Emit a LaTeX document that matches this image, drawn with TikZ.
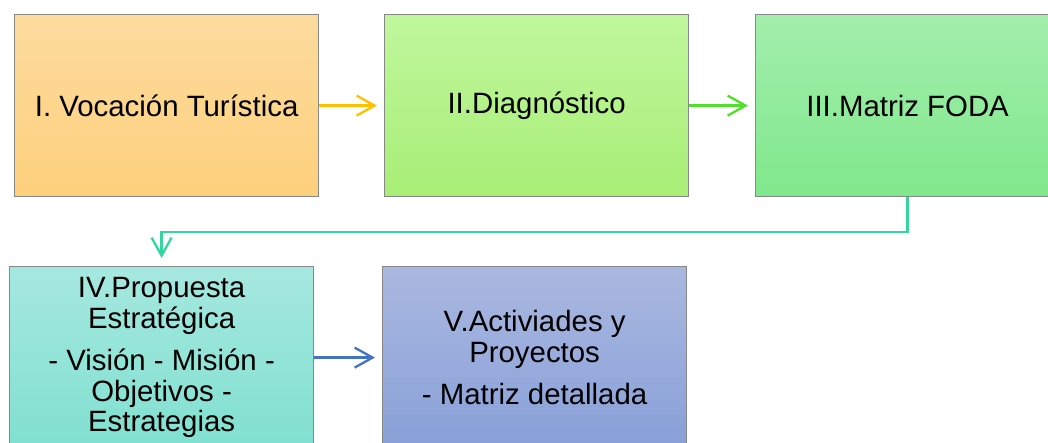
\documentclass[tikz,border=0pt]{standalone}
\usepackage{fontspec}
\setmainfont{Liberation Sans}
\usetikzlibrary{arrows.meta,positioning}
\definecolor{bordgray}{RGB}{135,135,135}
\definecolor{oTop}{RGB}{253,219,158}
\definecolor{oBot}{RGB}{253,208,124}
\definecolor{gTop}{RGB}{192,247,157}
\definecolor{gBot}{RGB}{168,238,118}
\definecolor{mTop}{RGB}{162,238,172}
\definecolor{mBot}{RGB}{128,232,140}
\definecolor{tTop}{RGB}{166,232,223}
\definecolor{tBot}{RGB}{128,224,208}
\definecolor{bTop}{RGB}{170,184,224}
\definecolor{bBot}{RGB}{136,160,216}
\definecolor{aOrange}{RGB}{255,192,0}
\definecolor{aGreen}{RGB}{80,224,44}
\definecolor{aTeal}{RGB}{52,214,160}
\definecolor{aBlue}{RGB}{68,114,196}
\tikzset{
  stepbox/.style={rectangle, draw=bordgray, line width=1.2bp, anchor=north west,
    minimum width=304bp, minimum height=182bp, align=center, inner sep=0pt,
    font=\fontsize{29.5}{30.5}\selectfont},
  flow/.style={line width=2.3bp, -{Straight Barb[length=18bp,width=20bp,line width=2.3bp]}, shorten >=7bp}
}
\begin{document}
\begin{tikzpicture}[x=1bp,y=-1bp]
\useasboundingbox (0,0) rectangle (1048,443);
\node[stepbox, top color=oTop, bottom color=oBot] (b1) at (14,14) {I. Vocación Turística};
\node[stepbox, top color=gTop, bottom color=gBot] (b2) at (384,14) {II.Diagnóstico};
\node[stepbox, top color=mTop, bottom color=mBot] (b3) at (755,14) {III.Matriz FODA};
\node[stepbox, top color=tTop, bottom color=tBot] (b4) at (9,266) {IV.Propuesta\\Estratégica\\[12bp]- Visión - Misión -\\Objetivos -\\Estrategias};
\node[stepbox, top color=bTop, bottom color=bBot] (b5) at (382,266) {V.Activiades y\\Proyectos\\[12bp]- Matriz detallada};
\draw[flow, aOrange] (b1.east) -- (b2.west);
\draw[flow, aGreen] (b2.east) -- (b3.west);
\draw[flow, aBlue] (b4.east) -- (b5.west);
\draw[flow, aTeal, shorten >=8bp] (b3.south) -- ++(0,35) -| (b4.north);
\end{tikzpicture}
\end{document}
